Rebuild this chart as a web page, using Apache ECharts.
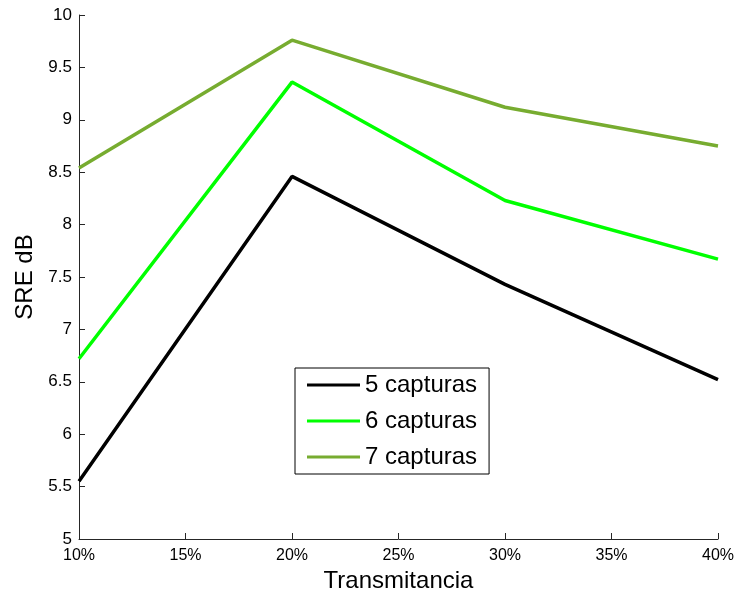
<!DOCTYPE html>
<html>
<head>
<meta charset="utf-8">
<script src="https://cdn.jsdelivr.net/npm/echarts@6/dist/echarts.min.js"></script>
<style>html,body{margin:0;padding:0;background:#fff}#c{width:745px;height:594px}</style>
</head>
<body>
<div id="c"></div>
<script>
const xValues = [10, 20, 30, 40];
const s5 = [5.55, 8.46, 7.43, 6.52];
const s6 = [6.72, 9.36, 8.23, 7.67];
const s7 = [8.54, 9.76, 9.12, 8.75];
const seriesNames = ['5 capturas', '6 capturas', '7 capturas'];
const colors = ['#000000', '#00ff00', '#77ac30'];

const pair = arr => xValues.map((x, i) => [x, arr[i]]);
const font = 'Liberation Sans, Arial, Helvetica, sans-serif';
const axisCol = '#262626';

const chart = echarts.init(document.getElementById('c'));
chart.setOption({
  animation: false,
  backgroundColor: '#fff',
  grid: { left: 79, right: 27, top: 15, bottom: 55, containLabel: false, outerBoundsMode: 'none' },
  xAxis: {
    type: 'value', min: 10, max: 40, interval: 5,
    name: 'Transmitancia', nameLocation: 'middle', nameGap: 27,
    nameTextStyle: { fontSize: 24, color: '#000', fontFamily: font },
    axisLine: { show: true, lineStyle: { color: axisCol, width: 1 } },
    axisTick: { show: true, inside: true, length: 6, lineStyle: { color: axisCol } },
    axisLabel: { formatter: '{value}%', fontSize: 16, color: '#000', fontFamily: font, margin: 9 },
    splitLine: { show: false }
  },
  yAxis: {
    type: 'value', min: 5, max: 10, interval: 0.5,
    name: 'SRE dB', nameLocation: 'middle', nameGap: 38,
    nameTextStyle: { fontSize: 24, color: '#000', fontFamily: font },
    axisLine: { show: true, lineStyle: { color: axisCol, width: 1 } },
    axisTick: { show: true, inside: true, length: 6, lineStyle: { color: axisCol } },
    axisLabel: { fontSize: 17, color: '#000', fontFamily: font, margin: 7 },
    splitLine: { show: false }
  },
  legend: {
    left: 295, top: 368, orient: 'vertical',
    backgroundColor: '#fff', borderColor: '#000', borderWidth: 1,
    padding: [5, 12, 5, 12], itemGap: 12,
    itemWidth: 53, itemHeight: 3, icon: 'rect',
    textStyle: { fontSize: 24, color: '#000', fontFamily: font, lineHeight: 22 },
    data: seriesNames
  },
  series: [
    { name: seriesNames[0], type: 'line', data: pair(s5), showSymbol: false, symbol: 'none', color: colors[0], lineStyle: { width: 3.5, color: colors[0] } },
    { name: seriesNames[1], type: 'line', data: pair(s6), showSymbol: false, symbol: 'none', color: colors[1], lineStyle: { width: 3.5, color: colors[1] } },
    { name: seriesNames[2], type: 'line', data: pair(s7), showSymbol: false, symbol: 'none', color: colors[2], lineStyle: { width: 3.5, color: colors[2] } }
  ]
});
</script>
</body>
</html>
